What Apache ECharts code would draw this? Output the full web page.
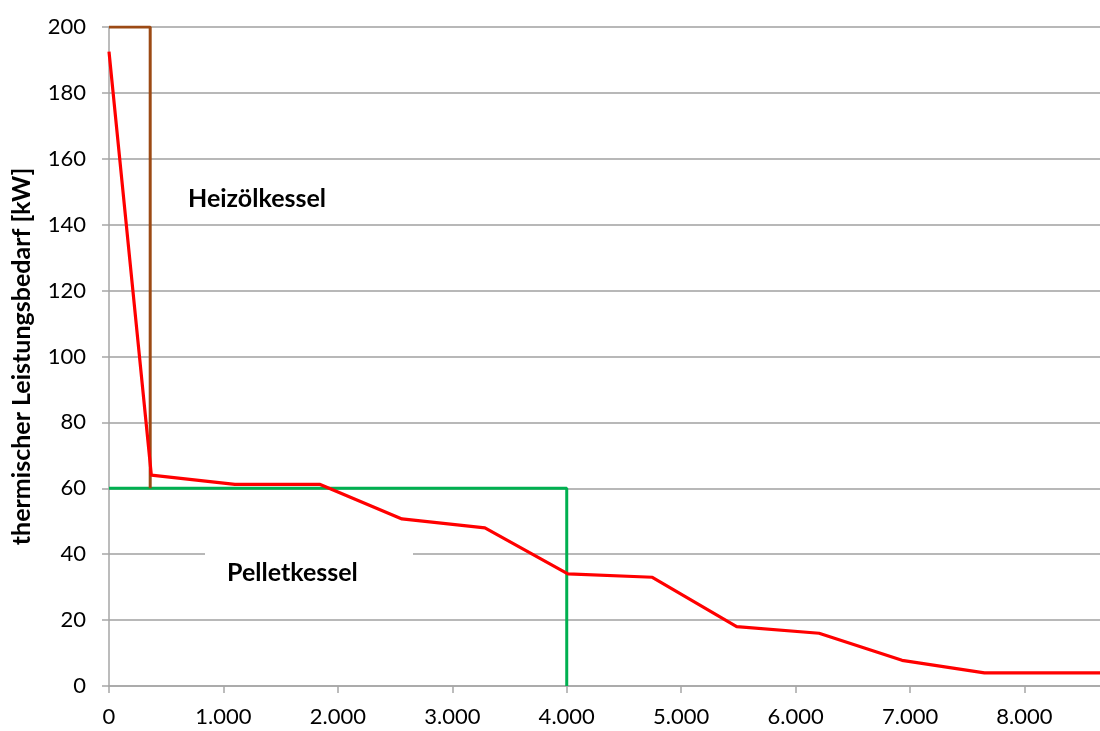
<!DOCTYPE html>
<html>
<head>
<meta charset="utf-8">
<script src="https://cdn.jsdelivr.net/npm/echarts@6/dist/echarts.min.js"></script>
<style>
  html, body { margin: 0; padding: 0; background: #fff; }
  #chart { width: 1100px; height: 731px; }
</style>
</head>
<body>
<div id="chart"></div>
<script>
// Jahresdauerlinie (Stunden / kW)
var demandHours = [0, 370, 1100, 1840, 2560, 3285, 4010, 4748, 5485, 6205, 6930, 7650, 8760];
var demandKW    = [192.5, 64, 61.2, 61.2, 50.7, 48, 34, 33, 18, 16, 7.8, 4, 4];

// Heizölkessel (Spitzenlast)
var oilHours = [0, 360, 360];
var oilKW    = [200, 200, 60];

// Pelletkessel (Grundlast)
var pelletHours = [0, 4000, 4000];
var pelletKW    = [60, 60, 0];

var yTicks = [0, 20, 40, 60, 80, 100, 120, 140, 160, 180, 200];

function pairs(xs, ys) {
  return xs.map(function (x, i) { return [x, ys[i]]; });
}

var font = 'Lato, "Open Sans", sans-serif';

var chart = echarts.init(document.getElementById('chart'));

var option = {
  animation: false,
  backgroundColor: '#fff',
  grid: { left: 109, top: 27, right: 0, bottom: 45 },
  xAxis: {
    type: 'value',
    min: 0,
    max: 8660,
    interval: 1000,
    axisLine: { lineStyle: { color: '#a6a6a6', width: 1.5 } },
    axisTick: { show: true, length: 7, lineStyle: { color: '#a6a6a6', width: 1.5 } },
    splitLine: { show: false },
    axisLabel: {
      showMaxLabel: false,
      color: '#000',
      fontFamily: font,
      fontSize: 22,
      margin: 20,
      formatter: function (v) {
        if (v % 1000 !== 0) return '';
        return v === 0 ? '0' : (v / 1000) + '.000';
      }
    }
  },
  yAxis: {
    type: 'value',
    min: yTicks[0],
    max: yTicks[yTicks.length - 1],
    interval: 20,
    name: 'thermischer Leistungsbedarf [kW]',
    nameLocation: 'middle',
    nameGap: 75,
    nameTextStyle: { color: '#000', fontFamily: font, fontSize: 25, fontWeight: 'bold' },
    axisLine: { show: true, lineStyle: { color: '#a6a6a6', width: 1.5 } },
    axisTick: { show: true, length: 7, lineStyle: { color: '#a6a6a6', width: 1.5 } },
    splitLine: { show: true, lineStyle: { color: '#a0a0a0', width: 1.5 } },
    axisLabel: { color: '#000', fontFamily: font, fontSize: 22, margin: 23 }
  },
  series: [
    {
      name: 'Pelletkessel',
      type: 'line',
      data: pairs(pelletHours, pelletKW),
      symbol: 'none',
      lineStyle: { color: '#00b050', width: 3 },
      z: 3
    },
    {
      name: 'Heizölkessel',
      type: 'line',
      data: pairs(oilHours, oilKW),
      symbol: 'none',
      lineStyle: { color: '#9c4a14', width: 3 },
      z: 4
    },
    {
      name: 'Leistungsbedarf',
      type: 'line',
      data: pairs(demandHours, demandKW),
      symbol: 'none',
      lineStyle: { color: '#ff0000', width: 3.2 },
      z: 5
    }
  ],
  graphic: [
    {
      type: 'text',
      left: 188,
      top: 186,
      style: { text: 'Heizölkessel', fill: '#000', font: 'bold 25px ' + font }
    },
    {
      type: 'rect',
      shape: { x: 205, y: 545, width: 208, height: 50 },
      style: { fill: '#fff' },
      z: 10
    },
    {
      type: 'text',
      left: 227,
      top: 560,
      style: { text: 'Pelletkessel', fill: '#000', font: 'bold 25px ' + font },
      z: 11
    }
  ]
};

chart.setOption(option);
</script>
</body>
</html>
